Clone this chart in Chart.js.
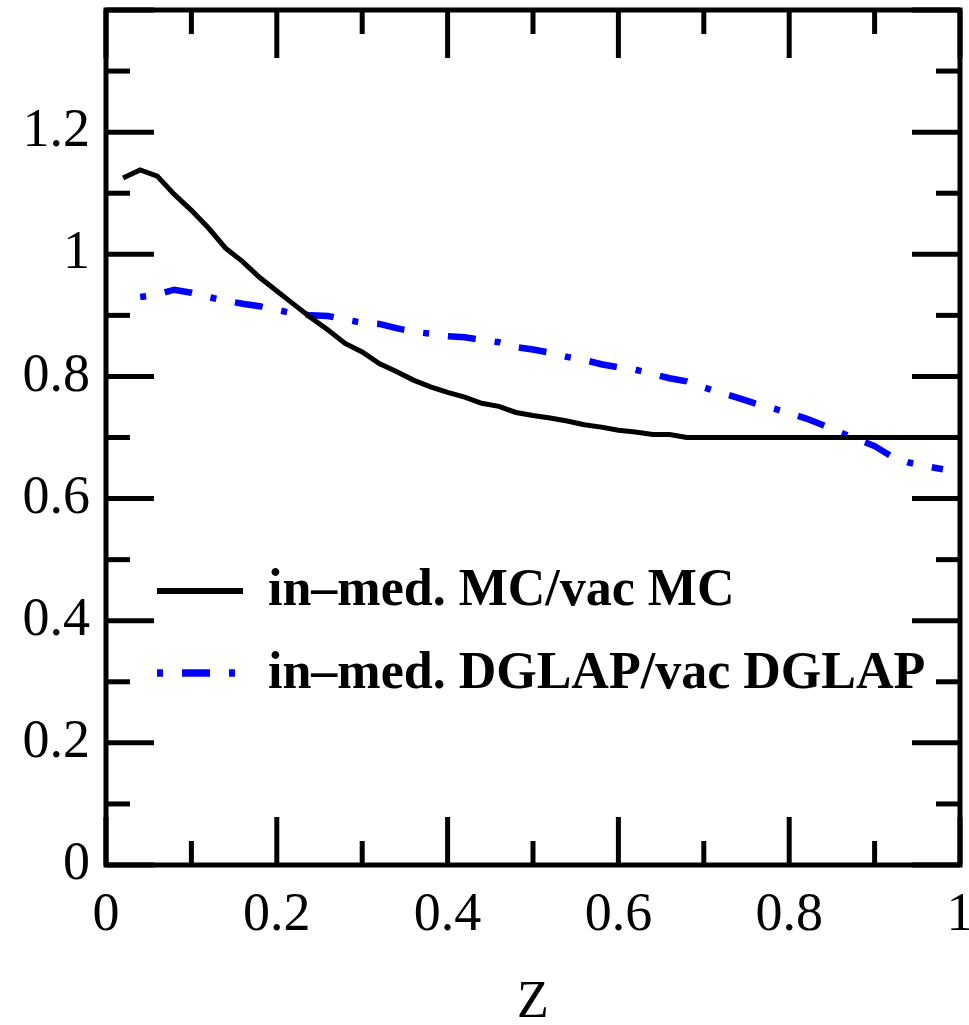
<!DOCTYPE html>
<html>
<head>
<meta charset="utf-8">
<script src="https://cdn.jsdelivr.net/npm/chart.js@4.4.1/dist/chart.umd.min.js"></script>
<style>
  html, body { margin: 0; padding: 0; background: #fff; }
  #wrap { width: 969px; height: 1025px; }
</style>
</head>
<body>
<div id="wrap"><canvas id="ratioChart"></canvas></div>
<script>
// fragmentation function ratios, in-medium over vacuum

const mcZ = [0.02, 0.04, 0.06, 0.08, 0.10, 0.12, 0.14, 0.16, 0.18, 0.20,
  0.22, 0.24, 0.26, 0.28, 0.30, 0.32, 0.34, 0.36, 0.38, 0.40,
  0.42, 0.44, 0.46, 0.48, 0.50, 0.52, 0.54, 0.56, 0.58, 0.60,
  0.62, 0.64, 0.66, 0.68, 0.70, 0.75, 0.80, 0.85, 0.90, 0.95, 1.00];
const mcRatio = [1.125, 1.138, 1.128, 1.098, 1.072, 1.043, 1.010, 0.988, 0.962, 0.940,
  0.918, 0.896, 0.876, 0.854, 0.840, 0.821, 0.808, 0.794, 0.783, 0.774,
  0.766, 0.756, 0.751, 0.741, 0.736, 0.732, 0.727, 0.721, 0.717, 0.712,
  0.709, 0.705, 0.705, 0.700, 0.700, 0.700, 0.700, 0.700, 0.700, 0.700, 0.700];

const dglapZ = [0.04, 0.06, 0.08, 0.10, 0.12, 0.14, 0.16, 0.18, 0.20,
  0.22, 0.24, 0.26, 0.28, 0.30, 0.32, 0.34, 0.36, 0.38, 0.40,
  0.42, 0.44, 0.46, 0.48, 0.50, 0.52, 0.54, 0.56, 0.58, 0.60,
  0.62, 0.64, 0.66, 0.68, 0.70, 0.72, 0.74, 0.76, 0.78, 0.80,
  0.82, 0.84, 0.86, 0.88, 0.90, 0.92, 0.94, 0.96, 0.98];
const dglapRatio = [0.930, 0.934, 0.942, 0.937, 0.930, 0.924, 0.919, 0.915, 0.909,
  0.903, 0.900, 0.899, 0.893, 0.888, 0.886, 0.879, 0.873, 0.870, 0.866,
  0.864, 0.860, 0.856, 0.848, 0.844, 0.839, 0.832, 0.827, 0.820, 0.815,
  0.811, 0.804, 0.797, 0.792, 0.782, 0.773, 0.765, 0.756, 0.748, 0.740,
  0.731, 0.720, 0.708, 0.697, 0.686, 0.669, 0.659, 0.653, 0.648];

const xTickLabels = ['0', '0.2', '0.4', '0.6', '0.8', '1'];
const yTickLabels = ['0', '0.2', '0.4', '0.6', '0.8', '1', '1.2'];
const xTitle = 'Z';

const toPoints = (xs, ys) => xs.map((v, i) => ({ x: v, y: ys[i] }));

// dash pattern for the DGLAP curve: dash, gap, dot, gap
const dashDot = [28, 19, 6, 19];

// frame with inward ticks on all four sides, tick labels and the legend
const framePlugin = {
  id: 'frame',
  afterDatasetsDraw(chart) {
    const { ctx, chartArea: a, scales: { x, y } } = chart;
    const xMax = x.max, yMax = y.max;
    const xMajor = xTickLabels.map(Number);
    const yMajor = yTickLabels.map(Number);
    const xMinor = xMajor.map(v => +(v + 0.1).toFixed(2)).filter(v => v < xMax);
    const yMinor = yMajor.map(v => +(v + 0.1).toFixed(2)).filter(v => v < yMax);
    yMajor.push(yMax);

    ctx.save();
    ctx.strokeStyle = '#000';
    ctx.lineWidth = 5;
    ctx.lineCap = 'butt';
    ctx.strokeRect(a.left, a.top, a.right - a.left, a.bottom - a.top);

    const seg = (x1, y1, x2, y2) => {
      ctx.beginPath(); ctx.moveTo(x1, y1); ctx.lineTo(x2, y2); ctx.stroke();
    };
    const xTicks = (vals, len) => vals.forEach(v => {
      const px = x.getPixelForValue(v);
      seg(px, a.bottom, px, a.bottom - len);
      seg(px, a.top, px, a.top + len);
    });
    const yTicks = (vals, len) => vals.forEach(v => {
      const py = y.getPixelForValue(v);
      seg(a.left, py, a.left + len, py);
      seg(a.right, py, a.right - len, py);
    });
    xTicks(xMajor, 48);
    xTicks(xMinor, 24);
    yTicks(yMajor, 48);
    yTicks(yMinor, 24);

    // tick labels
    ctx.fillStyle = '#000';
    ctx.font = '54px "Liberation Serif", "Times New Roman", serif';
    ctx.textAlign = 'right';
    ctx.textBaseline = 'middle';
    yTickLabels.forEach(t => ctx.fillText(t, a.left - 16, y.getPixelForValue(Number(t))));
    ctx.textAlign = 'center';
    ctx.textBaseline = 'alphabetic';
    xTickLabels.forEach(t => ctx.fillText(t, x.getPixelForValue(Number(t)), a.bottom + 65));

    // axis title
    ctx.font = '52px "Liberation Serif", "Times New Roman", serif';
    ctx.fillText(xTitle, (a.left + a.right) / 2, a.bottom + 152);

    // legend
    const rows = [
      { ds: chart.data.datasets[0], lineY: 591, textY: 605 },
      { ds: chart.data.datasets[1], lineY: 673, textY: 688 }
    ];
    ctx.font = 'bold 52px "Liberation Serif", "Times New Roman", serif';
    ctx.textAlign = 'left';
    rows.forEach(r => {
      ctx.strokeStyle = r.ds.borderColor;
      ctx.lineWidth = r.ds.borderWidth + 1;
      ctx.setLineDash(r.ds.borderDash || []);
      ctx.lineDashOffset = r.ds.borderDashOffset || 0;
      seg(157, r.lineY, 243, r.lineY);
      ctx.setLineDash([]);
      ctx.fillStyle = '#000';
      ctx.fillText(r.ds.label, 268, r.textY);
    });
    ctx.restore();
  }
};

const ctx = document.getElementById('ratioChart').getContext('2d');
new Chart(ctx, {
  type: 'line',
  data: {
    datasets: [{
      label: 'in–med. MC/vac MC',
      data: toPoints(mcZ, mcRatio),
      borderColor: '#000000',
      borderWidth: 5,
      pointRadius: 0,
      tension: 0,
      fill: false
    }, {
      label: 'in–med. DGLAP/vac DGLAP',
      data: toPoints(dglapZ, dglapRatio),
      borderColor: '#0000ff',
      borderWidth: 6.5,
      borderDash: dashDot,
      borderDashOffset: dashDot[0] + dashDot[1],
      borderCapStyle: 'butt',
      pointRadius: 0,
      tension: 0,
      fill: false
    }]
  },
  options: {
    responsive: true,
    maintainAspectRatio: false,
    animation: false,
    layout: { padding: { left: 106, top: 10, right: 9, bottom: 160 } },
    plugins: { legend: { display: false }, tooltip: { enabled: false } },
    scales: {
      x: { type: 'linear', min: 0, max: 1, display: false },
      y: { type: 'linear', min: 0, max: 1.4, display: false }
    }
  },
  plugins: [framePlugin]
});
</script>
</body>
</html>
